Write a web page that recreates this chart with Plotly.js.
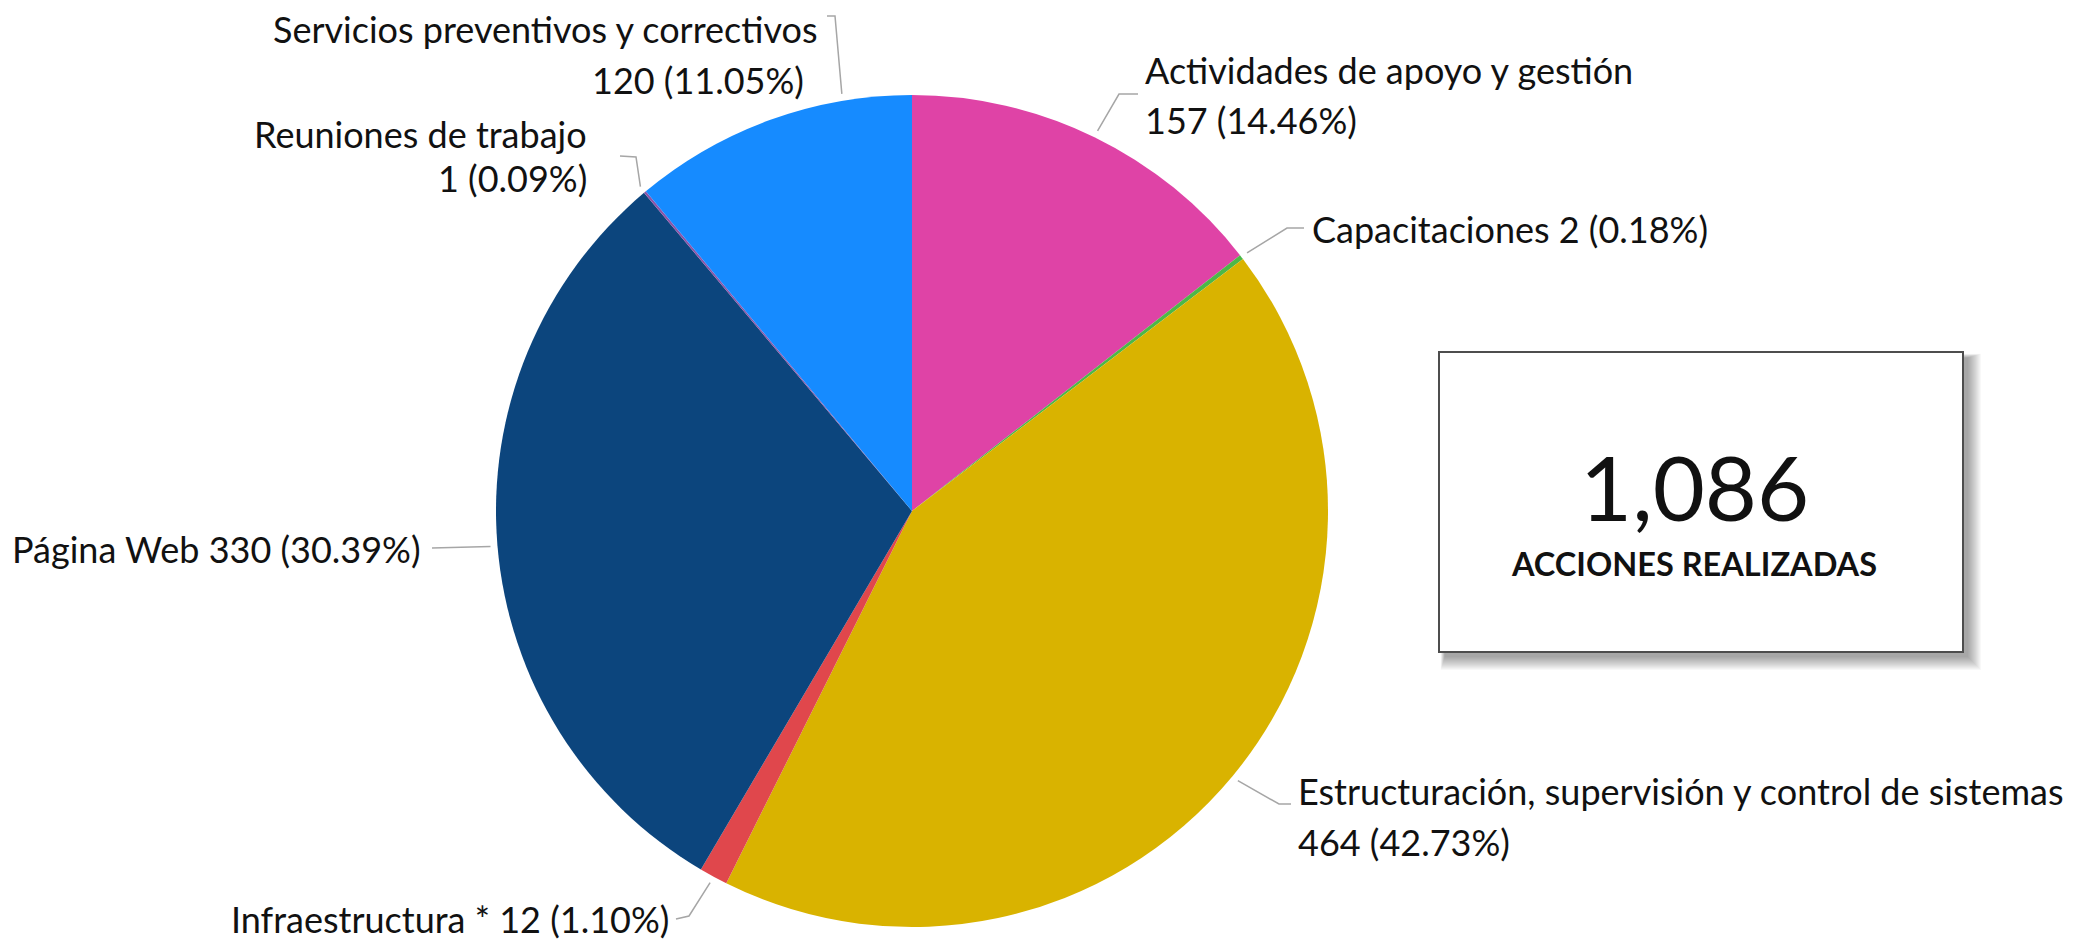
<!DOCTYPE html>
<html>
<head>
<meta charset="utf-8">
<script src="https://cdn.plot.ly/plotly-3.0.1.min.js"></script>
<style>
  html, body { margin: 0; padding: 0; background: #ffffff; }
  #chart { width: 2085px; height: 943px; }
</style>
</head>
<body>
<div id="chart"></div>
<script>
// ---------------- DATA ----------------
const categories = [
  "Actividades de apoyo y gestión",
  "Capacitaciones",
  "Estructuración, supervisión y control de sistemas",
  "Infraestructura *",
  "Página Web",
  "Reuniones de trabajo",
  "Servicios preventivos y correctivos"
];
const values = [157, 2, 464, 12, 330, 1, 120];
const summaryLabel = "ACCIONES REALIZADAS";

// ---------------- STYLE ----------------
const sliceColors = ["#DF43A6", "#4CB848", "#D9B300", "#E0474C", "#0C457D", "#8C54A8", "#168BFF"];
const W = 2085, H = 943;
const CX = 912, CY = 511, R = 416;       // pie placement in pixels
const FONT = "Lato, 'Open Sans', sans-serif";
const TEXT_COLOR = "#111111";
const LINE_COLOR = "#a6a6a6";
const LABEL_SIZE = 36;

// label layout per slice: split = name and value on two lines
// xs/ys = anchor positions of each line; path = leader line points before reaching the pie
// frac = where along the slice the leader line meets it
const labelLayout = [
  {split: true,  align: "left",  xs: [1143, 1143], ys: [70, 120],  path: [[1138, 94], [1119, 94]],  frac: 0.5},
  {split: false, align: "left",  xs: [1310],       ys: [229],      path: [[1304, 228], [1287, 228]], frac: 0.5},
  {split: true,  align: "left",  xs: [1296, 1296], ys: [791, 842], path: [[1291, 804], [1279, 804]], frac: 0.5},
  {split: false, align: "right", xs: [671],        ys: [919],      path: [[676, 919], [689, 916]],   frac: 0.5},
  {split: false, align: "right", xs: [423],        ys: [549],      path: [[432, 548]],               frac: 0.5},
  {split: true,  align: "right", xs: [589, 589],   ys: [134, 178], path: [[620, 156], [636, 157]],   frac: 0.5},
  {split: true,  align: "right", xs: [820, 806],   ys: [29, 80],   path: [[827, 16], [835, 16]],     frac: 0.76}
];

// ---------------- BUILD ----------------
const total = values.reduce((a, b) => a + b, 0);
const px = x => x / W;
const py = y => 1 - y / H;

const annotations = [];
const shapes = [];

let cum = 0;
values.forEach((v, i) => {
  const L = labelLayout[i];
  const pct = (v / total * 100).toFixed(2) + "%";
  const valueText = v + " (" + pct + ")";
  const lines = L.split ? [categories[i], valueText] : [categories[i] + " " + valueText];
  lines.forEach((t, k) => {
    annotations.push({
      xref: "paper", yref: "paper",
      x: px(L.xs[k]), y: py(L.ys[k]),
      xanchor: L.align, yanchor: "middle",
      text: t, showarrow: false,
      font: {family: FONT, size: LABEL_SIZE, color: TEXT_COLOR}
    });
  });
  // leader line to the slice (angle from the data)
  const angDeg = (cum + v * L.frac) / total * 360;
  const a = angDeg * Math.PI / 180;
  const ex = CX + (R + 7) * Math.sin(a);
  const ey = CY - (R + 7) * Math.cos(a);
  const pts = L.path.concat([[ex, ey]]);
  let d = "M " + px(pts[0][0]) + " " + py(pts[0][1]);
  for (let k = 1; k < pts.length; k++) d += " L " + px(pts[k][0]) + " " + py(pts[k][1]);
  shapes.push({type: "path", xref: "paper", yref: "paper", path: d,
               line: {color: LINE_COLOR, width: 1.5}});
  cum += v;
});

// summary box with soft shadow
const box = {x0: 1439, y0: 352, x1: 1963, y1: 652};
for (let s = 14; s >= 1; s--) {
  shapes.push({
    type: "rect", xref: "paper", yref: "paper", layer: "above",
    x0: px(box.x0 + 6 - s * 0.3), x1: px(box.x1 + 4 + s),
    y0: py(box.y1 + 4 + s), y1: py(box.y0 + 6 - s * 0.3),
    fillcolor: "rgba(0,0,0,0.028)", line: {width: 0}
  });
}
shapes.push({
  type: "rect", xref: "paper", yref: "paper", layer: "above",
  x0: px(box.x0), x1: px(box.x1), y0: py(box.y1), y1: py(box.y0),
  fillcolor: "#ffffff", line: {color: "#4d4d4d", width: 2}
});
annotations.push({
  xref: "paper", yref: "paper", x: px(1694), y: py(486),
  xanchor: "center", yanchor: "middle",
  text: total.toLocaleString("en-US"), showarrow: false,
  font: {family: FONT, size: 90, color: "#111111"}
});
annotations.push({
  xref: "paper", yref: "paper", x: px(1694), y: py(563),
  xanchor: "center", yanchor: "middle",
  text: "<b>" + summaryLabel + "</b>", showarrow: false,
  font: {family: FONT, size: 32.5, color: "#111111"}
});

const trace = {
  type: "pie",
  labels: categories,
  values: values,
  sort: false,
  direction: "clockwise",
  rotation: 0,
  textinfo: "none",
  hoverinfo: "label+value+percent",
  marker: {colors: sliceColors, line: {width: 0}},
  domain: {x: [(CX - R) / W, (CX + R) / W], y: [1 - (CY + R) / H, 1 - (CY - R) / H]},
  showlegend: false
};

const layout = {
  width: W, height: H,
  margin: {l: 0, r: 0, t: 0, b: 0},
  paper_bgcolor: "#ffffff",
  plot_bgcolor: "#ffffff",
  showlegend: false,
  annotations: annotations,
  shapes: shapes,
  font: {family: FONT}
};

Plotly.newPlot("chart", [trace], layout, {displayModeBar: false, staticPlot: true});
</script>
</body>
</html>
